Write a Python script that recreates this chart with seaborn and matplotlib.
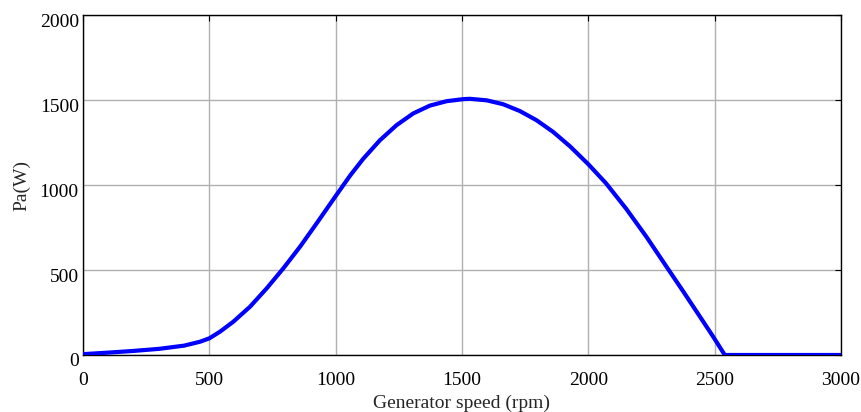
import matplotlib
matplotlib.use("Agg")
import matplotlib.pyplot as plt
from matplotlib.transforms import ScaledTranslation
import seaborn as sns
import pandas as pd

speed_rpm = [0, 100, 200, 300, 400, 463, 500, 542, 595, 661, 727, 793, 859, 925,
             1000, 1057, 1109, 1175, 1241, 1307, 1373, 1439, 1505, 1531,
             1598, 1663, 1729, 1795, 1861, 1927, 2000, 2070, 2150, 2230,
             2310, 2376, 2442, 2494, 2540, 3000]
power_w = [5, 14, 24, 36, 55, 78, 98, 137, 196, 284, 392, 510, 637, 775,
           935, 1055, 1154, 1263, 1352, 1421, 1467, 1493, 1505, 1507,
           1498, 1475, 1435, 1381, 1312, 1228, 1122, 1010, 860, 695,
           518, 373, 225, 108, 0, 0]
x_ticks = [0, 500, 1000, 1500, 2000, 2500, 3000]
y_ticks = [0, 500, 1000, 1500, 2000]

sns.set_theme(style="white")
plt.rcParams["font.family"] = ["Liberation Serif", "DejaVu Serif"]

df = pd.DataFrame({"speed": speed_rpm, "power": power_w})

fig = plt.figure(figsize=(8.62, 4.12), dpi=100)
ax = fig.add_axes([83 / 862, 57 / 412, 758 / 862, 340 / 412])
sns.lineplot(data=df, x="speed", y="power", ax=ax, color="#0000ff",
             linewidth=3.0, sort=False, zorder=3)

ax.set_xlim(0, 3000)
ax.set_ylim(0, 2000)
ax.set_xticks(x_ticks)
ax.set_yticks(y_ticks)
ax.grid(True, color="#b0b0b0", linewidth=1.0)
for s in ax.spines.values():
    s.set_visible(True)
    s.set_color("black")
    s.set_linewidth(1.0)
ax.tick_params(direction="in", top=True, right=True, length=4, width=0.8,
               colors="black", labelsize=14)
ax.tick_params(axis="x", pad=12)
ax.tick_params(axis="y", pad=3)
for lab in ax.get_yticklabels():
    lab.set_transform(lab.get_transform() + ScaledTranslation(0, -5 / 100, fig.dpi_scale_trans))
ax.set_xlabel("Generator speed (rpm)", fontsize=14, labelpad=4)
ax.set_ylabel("Pa(W)", fontsize=14, labelpad=7)

fig.savefig("out.png", dpi=100)
